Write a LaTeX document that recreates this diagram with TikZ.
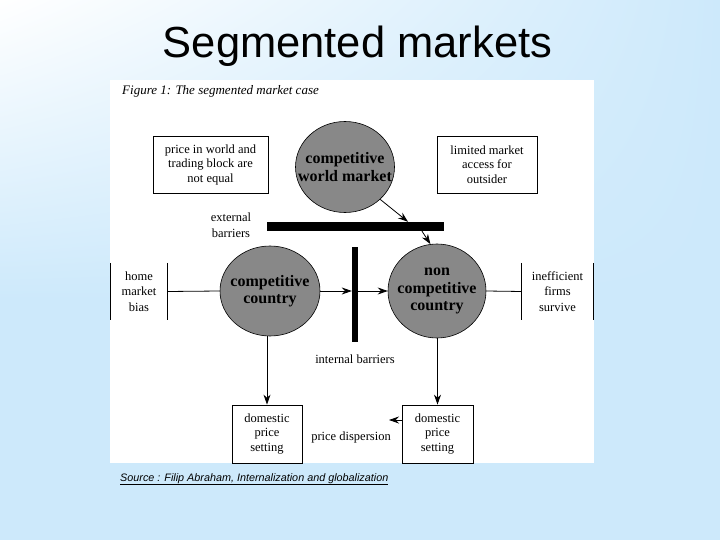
\documentclass[tikz,border=0pt]{standalone}
\usepackage{fontspec}
\setmainfont{Liberation Serif}
\setsansfont{Liberation Sans}
\usepackage{tikz}
\usetikzlibrary{shapes.geometric, arrows.meta, positioning, shadings}
\definecolor{mygrey}{RGB}{136,136,136}
\definecolor{mysky}{RGB}{205,233,251}
\tikzset{
  txtbox/.style={rectangle, draw=black, line width=0.8pt, align=center,
    font=\fontsize{12.5}{14.5}\selectfont, inner sep=0pt},
  market/.style={ellipse, draw=black, fill=mygrey, line width=0.6pt,
    inner sep=0pt},
  mtext/.style={align=center, inner sep=0pt,
    font=\bfseries\fontsize{16}{17.5}\selectfont},
  barrier/.style={rectangle, fill=black, inner sep=0pt},
  note/.style={align=center, inner sep=0pt,
    font=\fontsize{12.5}{15.5}\selectfont},
  arrow/.style={-{Stealth[length=10pt, width=7pt]}, line width=0.8pt},
  line/.style={line width=0.8pt}
}
\begin{document}
\begin{tikzpicture}[x=1pt, y=-1pt, node distance=12pt and 10pt]
  \fill[mysky] (0,0) rectangle (720,540);
  \shade[upper left=white, upper right=mysky, lower left=mysky,
    lower right=mysky] (0,0) rectangle (720,300);
  \fill[white] (110,80) rectangle (594,463);
  \node[anchor=base, inner sep=0pt,
    font=\sffamily\fontsize{43.5}{48}\selectfont] (title) at (357.5,58)
    {Segmented markets};
  \node[anchor=base west, inner sep=0pt,
    font=\itshape\fontsize{13}{15}\selectfont] (cap) at (122,95)
    {Figure 1: The segmented market case};

  \node[market, minimum width=99, minimum height=91,
    label={[mtext]center:{competitive\\world market}}] (world) at (345,167) {};
  \node[market, minimum width=100, minimum height=90,
    label={[mtext]center:{competitive\\country}}] (comp) at (270,291) {};
  \node[market, minimum width=98, minimum height=94,
    label={[mtext]center:{non\\competitive\\country}}] (noncomp) at (437,291) {};

  \node[barrier, minimum width=177, minimum height=9] (ebar) at (355.5,226.5) {};
  \node[barrier, minimum width=6, minimum height=95] (ibar) at (355,294.5) {};

  \node[txtbox, minimum width=115, minimum height=57] (gap) at (210.5,164.5)
    {price in world and\\trading block are\\not equal};
  \node[txtbox, minimum width=100, minimum height=57] (access) at (487,164.5)
    {limited market\\access for\\outsider};
  \node[txtbox, minimum width=70, minimum height=58] (dom1) at (267,434)
    {domestic\\price\\setting};
  \node[txtbox, minimum width=71, minimum height=58] (dom2) at (437.5,434)
    {domestic\\price\\setting};

  \node[note, minimum width=56, minimum height=57] (bias) at (139,291.5)
    {home\\market\\bias};
  \node[note, minimum width=71, minimum height=57] (ineff) at (557.5,291.5)
    {inefficient\\firms\\survive};
  \node[note] (ext) at (231,225) {external\\barriers};
  \node[note, below=of ibar] (int) {internal barriers};
  \node[note] (disp) at (351,437) {price dispersion};

  \node[anchor=base west, inner sep=0pt,
    font=\sffamily\itshape\fontsize{10.8}{12}\selectfont] (src) at (120,481)
    {\underline{Source : Filip Abraham, Internalization and globalization}};

  \draw[arrow] (world.south east) -- ([xshift=52.5pt]ebar.north);
  \draw[arrow] ([xshift=66.5pt]ebar.south) -- (noncomp.98);
  \draw[arrow] (comp.east) -- (comp.east -| ibar.west);
  \draw[arrow] (comp.east -| ibar.east) -- (noncomp.west);
  \draw[line] (bias.north west) -- (bias.south west);
  \draw[line] (bias.north east) -- (bias.south east);
  \draw[line] (bias.east) -- (comp.west);
  \draw[line] (ineff.north west) -- (ineff.south west);
  \draw[line] (ineff.north east) -- (ineff.south east);
  \draw[line] (noncomp.east) -- (ineff.west);
  \draw[arrow] (dom1.north |- comp.south) -- (dom1.north);
  \draw[arrow] (dom2.north |- noncomp.south) -- (dom2.north);
  \coordinate (pdtip) at (389,420);
  \draw[arrow] (dom2.west |- pdtip) -- (pdtip);
\end{tikzpicture}
\end{document}
